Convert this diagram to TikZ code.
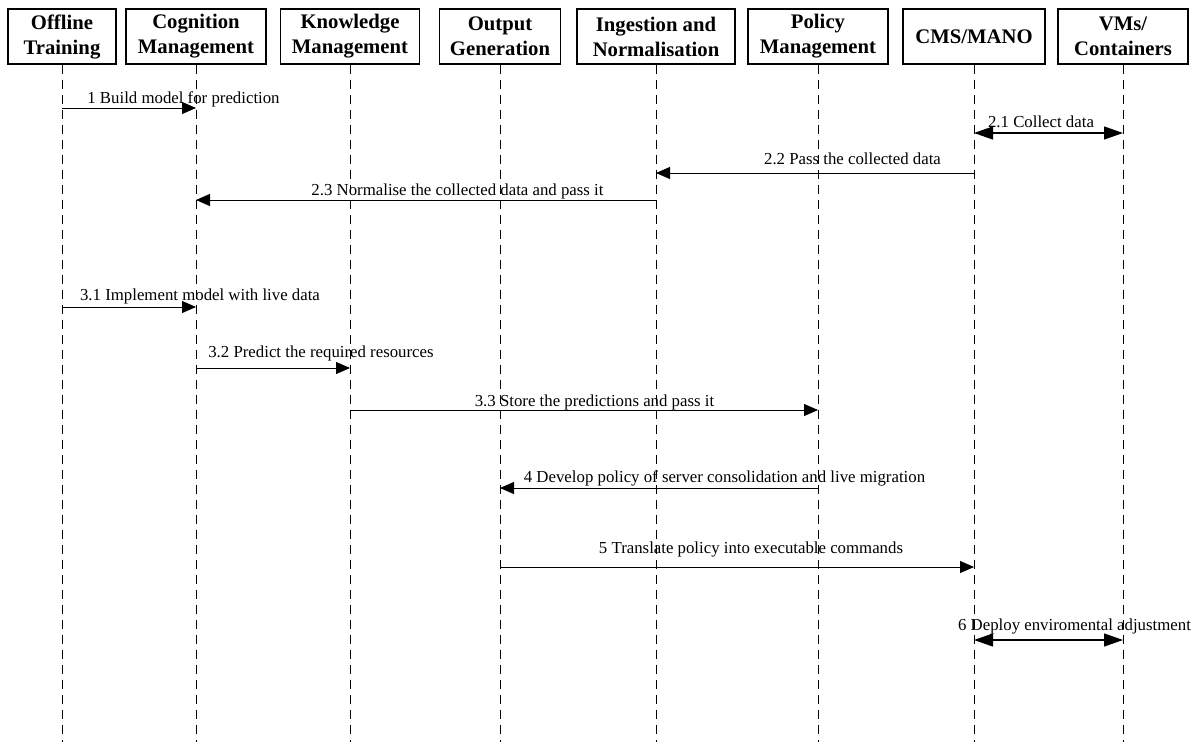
\documentclass[tikz,border=0pt]{standalone}
\usepackage{fontspec}
\setmainfont{Liberation Serif}
\usetikzlibrary{arrows.meta}

\begin{document}
\begin{tikzpicture}[x=1pt,y=-1pt,
		actor/.style={draw,line width=1.2pt,minimum height=55pt,inner sep=0pt,align=center,font=\fontsize{20.7}{25}\selectfont\bfseries},
		life/.style={line width=1pt,dash pattern=on 9pt off 6pt},
		msg/.style={line width=0.9pt,-{Triangle[length=14pt,width=12pt]}},
		both/.style={line width=1.2pt,{Triangle[length=19pt,width=13pt]}-{Triangle[length=19pt,width=13pt]}},
		lbl/.style={anchor=base,inner sep=0pt,font=\fontsize{16.8}{18}\selectfont}]
		\useasboundingbox (0,0) rectangle (1196,742);
		% lifeline heads
		\node[actor,minimum width=108pt] (off) at (62,36.5) {Offline\\Training};
		\node[actor,minimum width=140pt] (cog) at (196,36.5) {Cognition\\Management};
		\node[actor,minimum width=139pt] (know) at (350,36.5) {Knowledge\\Management};
		\node[actor,minimum width=121pt] (out) at (500,36.5) {Output\\Generation};
		\node[actor,minimum width=158pt] (ing) at (656,36.5) {Ingestion and\\Normalisation};
		\node[actor,minimum width=140pt] (pol) at (818,36.5) {Policy\\Management};
		\node[actor,minimum width=142pt] (cms) at (974,36.5) {CMS/MANO};
		\node[actor,minimum width=130pt] (vms) at (1123,36.5) {VMs/\\Containers};
		% lifelines
		\draw[life] (off.south) -- (off.south |- 0,742);
		\draw[life] (cog.south) -- (cog.south |- 0,742);
		\draw[life] (know.south) -- (know.south |- 0,742);
		\draw[life] (out.south) -- (out.south |- 0,742);
		\draw[life] (ing.south) -- (ing.south |- 0,742);
		\draw[life] (pol.south) -- (pol.south |- 0,742);
		\draw[life] (cms.south) -- (cms.south |- 0,742);
		\draw[life] (vms.south) -- (vms.south |- 0,742);
		% messages
		\draw[msg] (off |- 0,108) -- (cog |- 0,108);
		\node[lbl] (m1) at (183.5,103) {1 Build model for prediction};
		\draw[both] (cms |- 0,133) -- (vms |- 0,133);
		\node[lbl] (m21) at (1041,127) {2.1 Collect data};
		\draw[msg] (cms |- 0,173) -- (ing |- 0,173);
		\node[lbl] (m22) at (852.5,164) {2.2 Pass the collected data};
		\draw[msg] (ing |- 0,200) -- (cog |- 0,200);
		\node[lbl] (m23) at (457.5,195) {2.3 Normalise the collected data and pass it};
		\draw[msg] (off |- 0,307) -- (cog |- 0,307);
		\node[lbl] (m31) at (200,300) {3.1 Implement model with live data};
		\draw[msg] (cog |- 0,368) -- (know |- 0,368);
		\node[lbl] (m32) at (321,357) {3.2 Predict the required resources};
		\draw[msg] (know |- 0,410) -- (pol |- 0,410);
		\node[lbl] (m33) at (594.5,406) {3.3 Store the predictions and pass it};
		\draw[msg] (pol |- 0,488) -- (out |- 0,488);
		\node[lbl] (m4) at (724.5,482) {4 Develop policy of server consolidation and live migration};
		\draw[msg] (out |- 0,567) -- (cms |- 0,567);
		\node[lbl] (m5) at (751,553) {5 Translate policy into executable commands};
		\draw[both] (cms |- 0,640) -- (vms |- 0,640);
		\node[lbl] (m6) at (1074.5,630) {6 Deploy enviromental adjustment};
	\end{tikzpicture}
\end{document}
